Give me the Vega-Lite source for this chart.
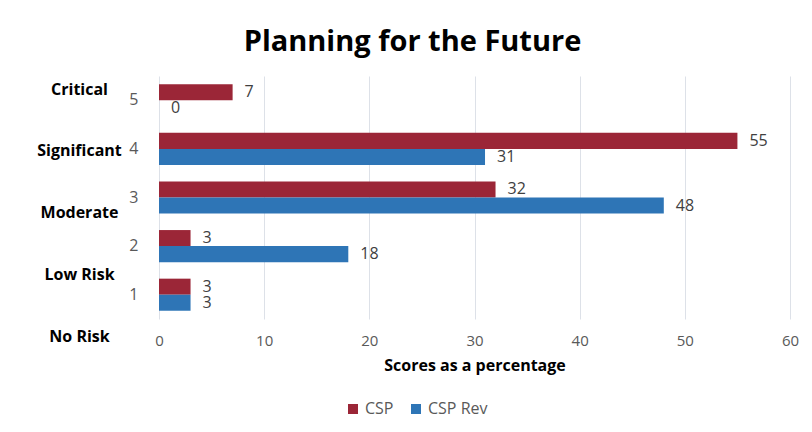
{
  "$schema": "https://vega.github.io/schema/vega-lite/v6.json",
  "autosize": {"type": "none"},
  "padding": {"left": 159, "top": 76, "right": 22, "bottom": 113},
  "width": 631,
  "height": 243,
  "background": "white",
  "config": {"font": "Open Sans", "view": {"stroke": null}},
  "title": {"text": "Planning for the Future", "fontSize": 29, "font": "Open Sans", "fontWeight": "bold", "color": "#000000", "anchor": "middle", "dx": -62, "offset": 19},
  "datasets": {
    "scores": [
      {"level": "5", "series": "CSP", "value": 7},
      {"level": "5", "series": "CSP Rev", "value": 0},
      {"level": "4", "series": "CSP", "value": 55},
      {"level": "4", "series": "CSP Rev", "value": 31},
      {"level": "3", "series": "CSP", "value": 32},
      {"level": "3", "series": "CSP Rev", "value": 48},
      {"level": "2", "series": "CSP", "value": 3},
      {"level": "2", "series": "CSP Rev", "value": 18},
      {"level": "1", "series": "CSP", "value": 3},
      {"level": "1", "series": "CSP Rev", "value": 3}
    ],
    "risks": [
      {"risk": "No Risk"},
      {"risk": "Low Risk"},
      {"risk": "Moderate"},
      {"risk": "Significant"},
      {"risk": "Critical"}
    ]
  },
  "layer": [
    {
      "data": {"name": "scores"},
      "encoding": {
        "y": {"field": "level", "type": "nominal", "sort": ["5", "4", "3", "2", "1"],
              "scale": {"paddingInner": 0.34, "paddingOuter": 0.17},
              "axis": {"title": null, "ticks": false, "domain": false, "labelPadding": 21, "labelFontSize": 16, "labelColor": "#595959", "labelAngle": 0}},
        "yOffset": {"field": "series", "type": "nominal", "sort": ["CSP", "CSP Rev"], "scale": {"paddingInner": 0, "paddingOuter": 0}},
        "x": {"field": "value", "type": "quantitative",
              "scale": {"domain": [0, 60], "nice": false},
              "axis": {"values": [0, 10, 20, 30, 40, 50, 60], "grid": true, "gridColor": "#DDE1E8", "domain": false, "ticks": false, "labelFlush": false, "labelPadding": 14, "labelFontSize": 15, "labelColor": "#595959", "title": "Scores as a percentage", "titleFontSize": 16, "titleFontWeight": "bold", "titleColor": "#000000", "titlePadding": 9}}
      },
      "layer": [
        {
          "mark": {"type": "bar"},
          "encoding": {
            "color": {"field": "series", "type": "nominal",
                      "scale": {"domain": ["CSP", "CSP Rev"], "range": ["#9B2637", "#2E75B6"]},
                      "legend": {"title": null, "orient": "none", "direction": "horizontal", "legendX": 186, "legendY": 325, "symbolType": "square", "symbolSize": 100, "symbolStrokeWidth": 0, "labelFontSize": 16, "labelColor": "#595959", "columnPadding": 14, "labelOffset": 4}}
          }
        },
        {
          "mark": {"type": "text", "align": "left", "baseline": "middle", "dx": 12, "fontSize": 16, "color": "#404040"},
          "encoding": {
            "text": {"field": "value", "type": "quantitative"}
          }
        }
      ]
    },
    {
      "data": {"name": "risks"},
      "mark": {"type": "text", "opacity": 0},
      "encoding": {
        "y": {"field": "risk", "type": "nominal",
              "scale": {"type": "point", "domain": ["No Risk", "Low Risk", "Moderate", "Significant", "Critical"], "range": [260, 13], "padding": 0},
              "axis": {"orient": "left", "title": null, "domain": false, "ticks": false, "grid": false, "labelAlign": "center", "labelPadding": 80, "labelFontSize": 16, "labelFontWeight": "bold", "labelColor": "#000000"}},
        "text": {"field": "risk", "type": "nominal"}
      }
    }
  ],
  "resolve": {"scale": {"y": "independent"}}
}
